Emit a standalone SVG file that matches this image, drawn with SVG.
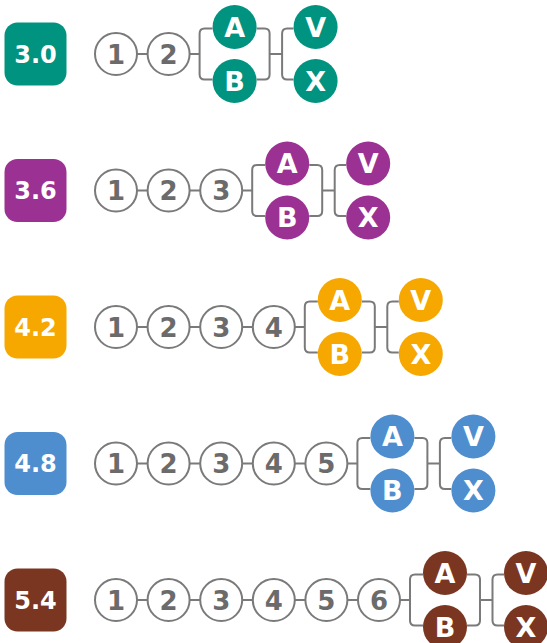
<svg xmlns="http://www.w3.org/2000/svg" xmlns:xlink="http://www.w3.org/1999/xlink" width="547" height="643" viewBox="0 0 547 643">
<style>
.bg{fill:#ffffff}
.num circle{fill:#ffffff;stroke:#7a7a7a;stroke-width:2}
.num text{fill:#6b6b6b;font-family:"DejaVu Sans","Liberation Sans",sans-serif;font-weight:bold;font-size:26px;text-anchor:middle}
.let text{fill:#ffffff;font-family:"DejaVu Sans","Liberation Sans",sans-serif;font-weight:bold;font-size:27px;text-anchor:middle}
.badge text{fill:#ffffff;font-family:"DejaVu Sans","Liberation Sans",sans-serif;font-weight:bold;font-size:24px;text-anchor:middle}
.conn{fill:none;stroke:#7a7a7a;stroke-width:2}
.c0{fill:#00937f}.c1{fill:#9b3192}.c2{fill:#f6a800}.c3{fill:#4e8ecf}.c4{fill:#7a3621}
</style>
<defs>
<path id="brk" d="M21,0 H31 M44,-25.5 H36 Q31,-25.5 31,-20.5 V20.5 Q31,25.5 36,25.5 H44 M88,-25.5 H96 Q101,-25.5 101,-20.5 V20.5 Q101,25.5 96,25.5 H88 M101,0 H113.5 M125,-25.5 H118.5 Q113.5,-25.5 113.5,-20.5 V20.5 Q113.5,25.5 118.5,25.5 H125"/>
<path id="chain" d="M137,0 H147.6 M189.6,0 H200.2 M242.2,0 H252.8 M294.8,0 H305.4 M347.4,0 H358"/>
<clipPath id="cl1"><rect x="0" y="-30" width="190" height="60"/></clipPath>
<clipPath id="cl2"><rect x="0" y="-30" width="242" height="60"/></clipPath>
<clipPath id="cl3"><rect x="0" y="-30" width="295" height="60"/></clipPath>
<clipPath id="cl4"><rect x="0" y="-30" width="347" height="60"/></clipPath>
<clipPath id="cl5"><rect x="0" y="-30" width="400" height="60"/></clipPath>
</defs>
<rect class="bg" x="0" y="0" width="547" height="643"/>

<g id="connectors" class="conn">
  <g transform="translate(0,54)"><use xlink:href="#chain" clip-path="url(#cl1)"/></g>
  <use xlink:href="#brk" transform="translate(168.6,54)"/>
  <g transform="translate(0,190.5)"><use xlink:href="#chain" clip-path="url(#cl2)"/></g>
  <use xlink:href="#brk" transform="translate(221.2,190.5)"/>
  <g transform="translate(0,327)"><use xlink:href="#chain" clip-path="url(#cl3)"/></g>
  <use xlink:href="#brk" transform="translate(273.8,327)"/>
  <g transform="translate(0,463.5)"><use xlink:href="#chain" clip-path="url(#cl4)"/></g>
  <use xlink:href="#brk" transform="translate(326.4,463.5)"/>
  <g transform="translate(0,600)"><use xlink:href="#chain" clip-path="url(#cl5)"/></g>
  <use xlink:href="#brk" transform="translate(379,600)"/>
</g>

<!-- Row 1 -->
<g id="badge-3-0" class="badge" transform="translate(35.5,54)"><rect class="c0" x="-31" y="-31.5" width="62" height="63" rx="13"/><text y="8.7">3.0</text></g>
<g id="r1-1" class="num" transform="translate(116,54)"><circle r="21"/><text y="9.5">1</text></g>
<g id="r1-2" class="num" transform="translate(168.6,54)"><circle r="21"/><text y="9.5">2</text></g>
<g id="r1-A" class="let" transform="translate(234.6,27)"><circle class="c0" r="22"/><text y="9.8">A</text></g>
<g id="r1-B" class="let" transform="translate(234.6,81)"><circle class="c0" r="22"/><text y="9.8">B</text></g>
<g id="r1-V" class="let" transform="translate(315.6,27)"><circle class="c0" r="22"/><text y="9.8">V</text></g>
<g id="r1-X" class="let" transform="translate(315.6,81)"><circle class="c0" r="22"/><text y="9.8">X</text></g>

<!-- Row 2 -->
<g id="badge-3-6" class="badge" transform="translate(35.5,190.5)"><rect class="c1" x="-31" y="-31.5" width="62" height="63" rx="13"/><text y="8.7">3.6</text></g>
<g id="r2-1" class="num" transform="translate(116,190.5)"><circle r="21"/><text y="9.5">1</text></g>
<g id="r2-2" class="num" transform="translate(168.6,190.5)"><circle r="21"/><text y="9.5">2</text></g>
<g id="r2-3" class="num" transform="translate(221.2,190.5)"><circle r="21"/><text y="9.5">3</text></g>
<g id="r2-A" class="let" transform="translate(287.2,163.5)"><circle class="c1" r="22"/><text y="9.8">A</text></g>
<g id="r2-B" class="let" transform="translate(287.2,217.5)"><circle class="c1" r="22"/><text y="9.8">B</text></g>
<g id="r2-V" class="let" transform="translate(368.2,163.5)"><circle class="c1" r="22"/><text y="9.8">V</text></g>
<g id="r2-X" class="let" transform="translate(368.2,217.5)"><circle class="c1" r="22"/><text y="9.8">X</text></g>

<!-- Row 3 -->
<g id="badge-4-2" class="badge" transform="translate(35.5,327)"><rect class="c2" x="-31" y="-31.5" width="62" height="63" rx="13"/><text y="8.7">4.2</text></g>
<g id="r3-1" class="num" transform="translate(116,327)"><circle r="21"/><text y="9.5">1</text></g>
<g id="r3-2" class="num" transform="translate(168.6,327)"><circle r="21"/><text y="9.5">2</text></g>
<g id="r3-3" class="num" transform="translate(221.2,327)"><circle r="21"/><text y="9.5">3</text></g>
<g id="r3-4" class="num" transform="translate(273.8,327)"><circle r="21"/><text y="9.5">4</text></g>
<g id="r3-A" class="let" transform="translate(339.8,300)"><circle class="c2" r="22"/><text y="9.8">A</text></g>
<g id="r3-B" class="let" transform="translate(339.8,354)"><circle class="c2" r="22"/><text y="9.8">B</text></g>
<g id="r3-V" class="let" transform="translate(420.8,300)"><circle class="c2" r="22"/><text y="9.8">V</text></g>
<g id="r3-X" class="let" transform="translate(420.8,354)"><circle class="c2" r="22"/><text y="9.8">X</text></g>

<!-- Row 4 -->
<g id="badge-4-8" class="badge" transform="translate(35.5,463.5)"><rect class="c3" x="-31" y="-31.5" width="62" height="63" rx="13"/><text y="8.7">4.8</text></g>
<g id="r4-1" class="num" transform="translate(116,463.5)"><circle r="21"/><text y="9.5">1</text></g>
<g id="r4-2" class="num" transform="translate(168.6,463.5)"><circle r="21"/><text y="9.5">2</text></g>
<g id="r4-3" class="num" transform="translate(221.2,463.5)"><circle r="21"/><text y="9.5">3</text></g>
<g id="r4-4" class="num" transform="translate(273.8,463.5)"><circle r="21"/><text y="9.5">4</text></g>
<g id="r4-5" class="num" transform="translate(326.4,463.5)"><circle r="21"/><text y="9.5">5</text></g>
<g id="r4-A" class="let" transform="translate(392.4,436.5)"><circle class="c3" r="22"/><text y="9.8">A</text></g>
<g id="r4-B" class="let" transform="translate(392.4,490.5)"><circle class="c3" r="22"/><text y="9.8">B</text></g>
<g id="r4-V" class="let" transform="translate(473.4,436.5)"><circle class="c3" r="22"/><text y="9.8">V</text></g>
<g id="r4-X" class="let" transform="translate(473.4,490.5)"><circle class="c3" r="22"/><text y="9.8">X</text></g>

<!-- Row 5 -->
<g id="badge-5-4" class="badge" transform="translate(35.5,600)"><rect class="c4" x="-31" y="-31.5" width="62" height="63" rx="13"/><text y="8.7">5.4</text></g>
<g id="r5-1" class="num" transform="translate(116,600)"><circle r="21"/><text y="9.5">1</text></g>
<g id="r5-2" class="num" transform="translate(168.6,600)"><circle r="21"/><text y="9.5">2</text></g>
<g id="r5-3" class="num" transform="translate(221.2,600)"><circle r="21"/><text y="9.5">3</text></g>
<g id="r5-4" class="num" transform="translate(273.8,600)"><circle r="21"/><text y="9.5">4</text></g>
<g id="r5-5" class="num" transform="translate(326.4,600)"><circle r="21"/><text y="9.5">5</text></g>
<g id="r5-6" class="num" transform="translate(379,600)"><circle r="21"/><text y="9.5">6</text></g>
<g id="r5-A" class="let" transform="translate(445,573)"><circle class="c4" r="22"/><text y="9.8">A</text></g>
<g id="r5-B" class="let" transform="translate(445,627)"><circle class="c4" r="22"/><text y="9.8">B</text></g>
<g id="r5-V" class="let" transform="translate(526,573)"><circle class="c4" r="22"/><text y="9.8">V</text></g>
<g id="r5-X" class="let" transform="translate(526,627)"><circle class="c4" r="22"/><text y="9.8">X</text></g>
</svg>
